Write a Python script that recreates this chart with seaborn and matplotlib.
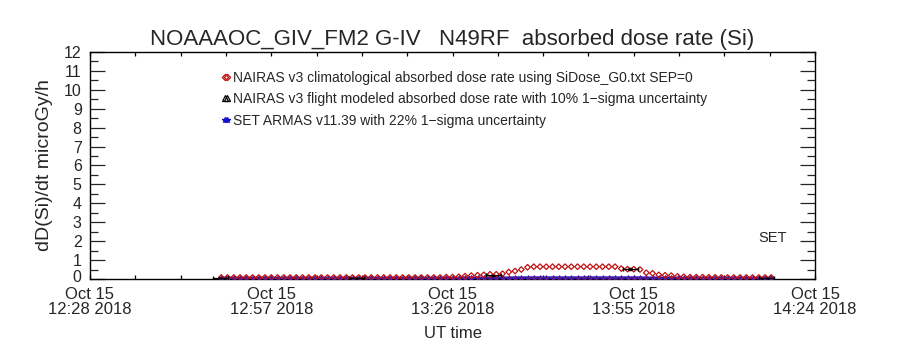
import numpy as np
import pandas as pd
import matplotlib
matplotlib.use("Agg")
import matplotlib.pyplot as plt
import matplotlib.dates as mdates
import matplotlib.transforms as mtransforms
import seaborn as sns
from matplotlib.lines import Line2D
from matplotlib.ticker import FixedLocator, MultipleLocator

sns.set_style("ticks")
plt.rcParams['font.family'] = ['Liberation Sans', 'DejaVu Sans']

# ---------------- data ----------------
title = "NOAAAOC_GIV_FM2 G-IV   N49RF  absorbed dose rate (Si)"
ylabel = "dD(Si)/dt microGy/h"
xlabel = "UT time"

# NAIRAS climatological (red diamonds), 1-minute cadence starting 12:49 UT
clim_start = "2018-10-15 12:49"
clim_values = [
    0.08, 0.08, 0.08, 0.08, 0.08, 0.08, 0.08, 0.08, 0.08, 0.08,   # 12:49-12:58
    0.08, 0.08, 0.08, 0.08, 0.08, 0.08, 0.08, 0.08, 0.08, 0.08,   # 12:59-13:08
    0.08, 0.08, 0.08, 0.08, 0.08, 0.08, 0.08, 0.08, 0.08, 0.08,   # 13:09-13:18
    0.08, 0.08, 0.08, 0.08, 0.08, 0.08, 0.10, 0.10, 0.12, 0.15,   # 13:19-13:28
    0.18, 0.20, 0.22, 0.25, 0.25, 0.28, 0.37, 0.42, 0.50, 0.62,   # 13:29-13:38
    0.65, 0.65, 0.65, 0.65, 0.65, 0.65, 0.65, 0.65, 0.65, 0.65,   # 13:39-13:48
    0.65, 0.65, 0.65, 0.65, 0.55, 0.52, 0.52, 0.50, 0.33, 0.30,   # 13:49-13:58
    0.22, 0.20, 0.18, 0.14, 0.12, 0.10, 0.10, 0.10, 0.09, 0.09,   # 13:59-14:08
    0.08, 0.08, 0.08, 0.08, 0.08, 0.08, 0.08, 0.08, 0.08,         # 14:09-14:17
]

# SET ARMAS v11.39 (blue), same cadence
armas_values = [
    0.04, 0.04, 0.04, 0.04, 0.04, 0.04, 0.04, 0.04, 0.04, 0.04,
    0.04, 0.04, 0.04, 0.04, 0.04, 0.04, 0.04, 0.04, 0.04, 0.04,
    0.04, 0.04, 0.04, 0.04, 0.04, 0.04, 0.04, 0.04, 0.04, 0.04,
    0.04, 0.04, 0.04, 0.04, 0.04, 0.04, 0.04, 0.04, 0.04, 0.05,
    0.05, 0.05, 0.05, 0.05, 0.05, 0.05, 0.05, 0.06, 0.06, 0.06,
    0.06, 0.06, 0.06, 0.06, 0.06, 0.06, 0.06, 0.06, 0.06, 0.06,
    0.06, 0.06, 0.06, 0.06, 0.06, 0.06, 0.06, 0.06, 0.05, 0.05,
    0.05, 0.05, 0.05, 0.04, 0.04, 0.04, 0.04, 0.04, 0.04, 0.04,
    0.04, 0.04, 0.04, 0.04, 0.04, 0.04, 0.04, 0.04, 0.04,
]

# NAIRAS flight modeled (black, with 10% uncertainty)
flight_times = ["2018-10-15 12:48:48", "2018-10-15 13:10:42", "2018-10-15 13:32:30",
                "2018-10-15 13:54:24", "2018-10-15 14:16:18"]
flight_values = [0.05, 0.05, 0.20, 0.55, 0.05]
flight_rel_err = 0.10

tick_times = ["2018-10-15 12:28", "2018-10-15 12:57", "2018-10-15 13:26",
              "2018-10-15 13:55", "2018-10-15 14:24"]
tick_labels = ["Oct 15\n12:28 2018", "Oct 15\n12:57 2018", "Oct 15\n13:26 2018",
               "Oct 15\n13:55 2018", "Oct 15\n14:24 2018"]
yticks = list(range(0, 13))

legend_labels = [
    "NAIRAS v3 climatological absorbed dose rate using SiDose_G0.txt SEP=0",
    "NAIRAS v3 flight modeled absorbed dose rate with 10% 1\u2212sigma uncertainty",
    "SET ARMAS v11.39 with 22% 1\u2212sigma uncertainty",
]

# ---------------- frame ----------------
times = pd.date_range(clim_start, periods=len(clim_values), freq="1min")
df = pd.DataFrame({"time": times, "clim": clim_values, "armas": armas_values})
fl = pd.DataFrame({"time": pd.to_datetime(flight_times), "val": flight_values})

fig = plt.figure(figsize=(9, 3.5), dpi=100)
ax = fig.add_axes([0.1, 0.2029, 0.8056, 0.6485])

red = "#c01010"
blue = "#1010d0"

sns.lineplot(data=df, x="time", y="armas", ax=ax, color=blue, lw=2.2,
             marker="*", markersize=4, markeredgecolor="#5a1a8a",
             markerfacecolor="#5a1a8a", markeredgewidth=0.6, zorder=3)
sns.scatterplot(data=df, x="time", y="clim", ax=ax, marker="D", s=8,
                facecolor="none", edgecolor=red, linewidth=0.9, zorder=4)
ax.errorbar(fl["time"], fl["val"], yerr=fl["val"] * flight_rel_err,
            xerr=pd.Timedelta(minutes=1.2), fmt="none", ecolor="black",
            elinewidth=0.9, capsize=1.5, zorder=5)

t0, t1 = pd.to_datetime(tick_times[0]), pd.to_datetime(tick_times[-1])
ax.set_xlim(t0, t1)
ax.set_ylim(0, 12)

tick_nums = [mdates.date2num(pd.to_datetime(t)) for t in tick_times]
ax.xaxis.set_major_locator(FixedLocator(tick_nums))
ax.set_xticklabels(tick_labels)
minor_nums = np.linspace(tick_nums[0], tick_nums[-1], 17)
ax.xaxis.set_minor_locator(FixedLocator(minor_nums))

ax.set_yticks(yticks)
ax.set_yticklabels([str(v) for v in yticks])
ax.yaxis.set_minor_locator(MultipleLocator(0.5))

ax.tick_params(axis="x", which="both", direction="in", top=True, bottom=True,
               length=3, width=0.9, labelsize=12, pad=6, color="black")
ax.tick_params(axis="y", which="major", direction="in", left=True, right=True,
               length=11, width=0.9, labelsize=11.5, pad=6)
ax.tick_params(axis="y", which="minor", direction="in", left=True, right=True,
               length=5.5, width=0.9)
for lbl in ax.get_xticklabels():
    lbl.set_linespacing(1.0)

# nudge the lowest y label up slightly so it clears the date labels
ylbls = ax.get_yticklabels()
ylbls[0].set_transform(ylbls[0].get_transform() +
                       mtransforms.ScaledTranslation(0, 3 / 100, fig.dpi_scale_trans))

for s in ax.spines.values():
    s.set_linewidth(1.0)
    s.set_color("black")

ax.set_xlabel(xlabel, fontsize=12, labelpad=6)
ax.set_ylabel(ylabel, fontsize=14, labelpad=8)
ax.set_title(title, fontsize=16, pad=5)

ax.text(0.941, 0.18, "SET", transform=ax.transAxes, fontsize=10.5,
        ha="center", va="center")

handles = [
    Line2D([], [], ls="none", marker="D", markersize=3.2, markerfacecolor="none",
           markeredgecolor=red, markeredgewidth=0.9),
    Line2D([], [], ls="none", marker="^", markersize=4, markerfacecolor="none",
           markeredgecolor="black", markeredgewidth=0.9),
    Line2D([], [], color=blue, lw=2, marker="*", markersize=4,
           markerfacecolor=blue, markeredgecolor=blue),
]
ax.legend(handles, legend_labels, loc="upper left", bbox_to_anchor=(0.18, 0.918),
          frameon=False, numpoints=2, handlelength=0.8, handletextpad=0.1,
          fontsize=10, labelspacing=0.55, borderaxespad=0, borderpad=0)

fig.savefig("out.png", dpi=100)
